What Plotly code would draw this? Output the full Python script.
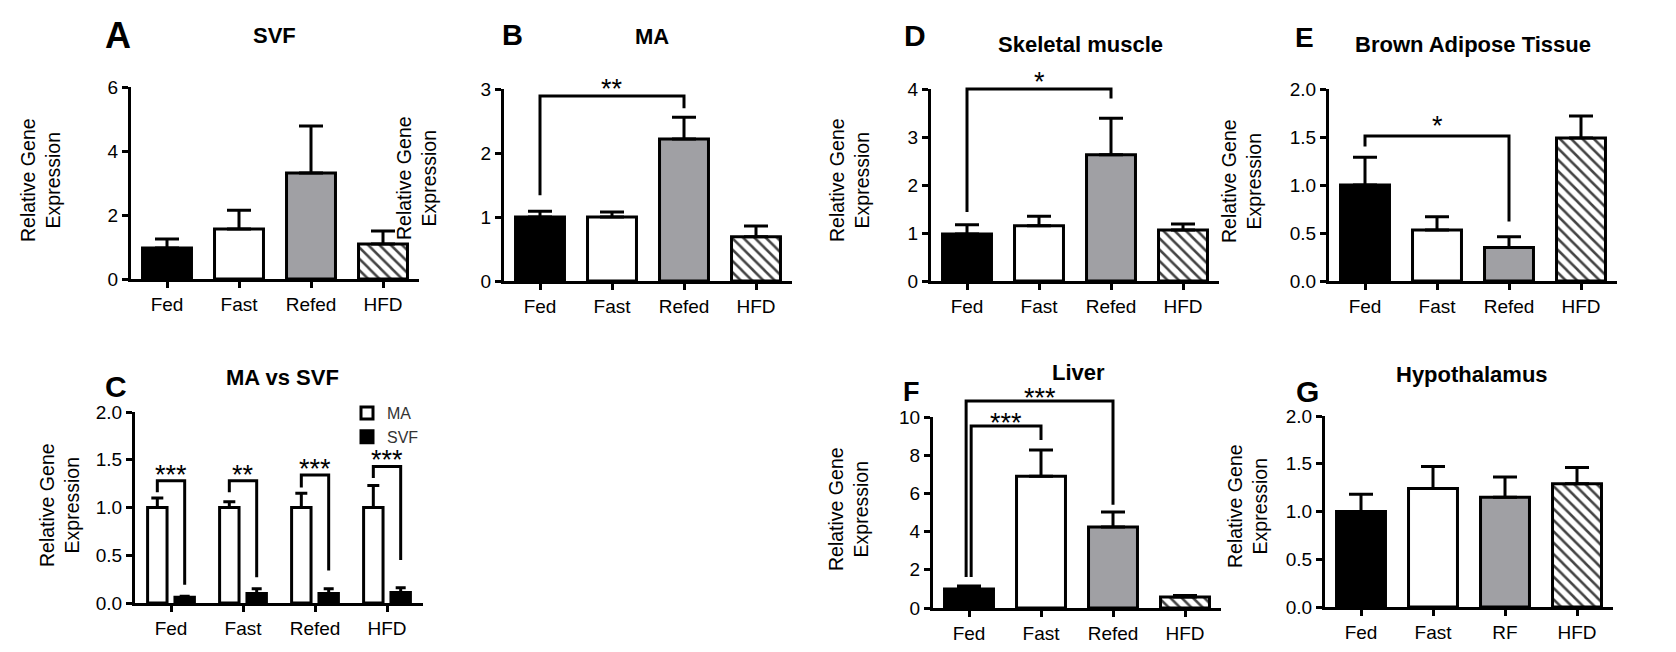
import plotly.graph_objects as go

W, H = 1676, 652
FONT = "Liberation Sans, Arial, sans-serif"

# ---------------- data ----------------
CATS = ["Fed", "Fast", "Refed", "HFD"]
CATS_G = ["Fed", "Fast", "RF", "HFD"]

svf_mean = [0.97, 1.56, 3.31, 1.09]
svf_err = [0.28, 0.59, 1.47, 0.41]

ma_mean = [1.00, 1.00, 2.22, 0.69]
ma_err = [0.09, 0.08, 0.34, 0.17]

muscle_mean = [0.98, 1.15, 2.63, 1.06]
muscle_err = [0.19, 0.20, 0.76, 0.13]

bat_mean = [1.00, 0.53, 0.35, 1.49]
bat_err = [0.29, 0.14, 0.11, 0.23]

c_ma_mean = [1.00, 1.00, 1.00, 1.00]
c_ma_err = [0.10, 0.06, 0.15, 0.23]
c_svf_mean = [0.06, 0.10, 0.10, 0.11]
c_svf_err = [0.01, 0.05, 0.05, 0.05]

liver_mean = [1.00, 6.90, 4.24, 0.58]
liver_err = [0.15, 1.37, 0.79, 0.07]

hyp_mean = [1.00, 1.24, 1.15, 1.29]
hyp_err = [0.18, 0.23, 0.21, 0.17]

# significance brackets: (from category, to category, top, from-leg end, to-leg end, label)
ma_brackets = [(0, 2, 2.89, 1.34, 2.70, "**")]
muscle_brackets = [(0, 2, 4.00, 1.44, 3.80, "*")]
bat_brackets = [(0, 2, 1.51, 1.40, 0.62, "*")]
liver_brackets = [(0, 1, 9.53, 1.62, 8.80, "***"),
                  (0, 2, 10.84, 1.62, 5.40, "***")]
# MA vs SVF brackets: (group, top, MA-leg end, SVF-leg end, label)
c_brackets = [(0, 1.28, 1.16, 0.19, "***"),
              (1, 1.28, 1.16, 0.27, "**"),
              (2, 1.34, 1.21, 0.34, "***"),
              (3, 1.43, 1.31, 0.45, "***")]

# ---------------- style ----------------
FILLS = ["black", "white", "#a0a0a4", "white"]
PATTERNS = ["", "", "", "\\"]
BAR_W = 0.68
PAIR_W = 0.27
MA_OFF = -0.325
SVF_OFF = 0.055
K_EXT = 1.3
STAR_SIZE = 27

panels = [
    dict(letter="A", title="SVF", kind="single", cats=CATS, mean=svf_mean, err=svf_err,
         ymax=6, step=2, fmt="d", box=(131, 419, 87, 279), title_at=(274, 35),
         letter_at=(118, 35), letter_size=36, ylab_at=(41, 180), brackets=[], star_shift=7),
    dict(letter="B", title="MA", kind="single", cats=CATS, mean=ma_mean, err=ma_err,
         ymax=3, step=1, fmt="d", box=(504, 792, 89, 281), title_at=(652, 36),
         letter_at=(512, 35), letter_size=29, ylab_at=(416, 178), brackets=ma_brackets, star_shift=7),
    dict(letter="D", title="Skeletal muscle", kind="single", cats=CATS, mean=muscle_mean, err=muscle_err,
         ymax=4, step=1, fmt="d", box=(931, 1219, 89, 281), title_at=(1080, 44),
         letter_at=(915, 35), letter_size=30, ylab_at=(850, 180), brackets=muscle_brackets, star_shift=7),
    dict(letter="E", title="Brown Adipose Tissue", kind="single", cats=CATS, mean=bat_mean, err=bat_err,
         ymax=2, step=0.5, fmt=".1f", box=(1329, 1617, 89, 281), title_at=(1473, 44),
         letter_at=(1304, 37), letter_size=28, ylab_at=(1241, 181), brackets=bat_brackets, star_shift=10),
    dict(letter="C", title="MA vs SVF", kind="pair", cats=CATS,
         ymax=2, step=0.5, fmt=".1f", box=(135, 423, 412, 603), title_at=(282, 377),
         letter_at=(116, 386), letter_size=30, ylab_at=(59, 505), brackets=[], star_shift=6),
    dict(letter="F", title="Liver", kind="single", cats=CATS, mean=liver_mean, err=liver_err,
         ymax=10, step=2, fmt="d", box=(933, 1221, 417, 608), title_at=(1078, 372),
         letter_at=(911, 392), letter_size=27, ylab_at=(848, 509), brackets=liver_brackets,
         leg_nudge=[0.03, -0.04], star_shift=3),
    dict(letter="G", title="Hypothalamus", kind="single", cats=CATS_G, mean=hyp_mean, err=hyp_err,
         ymax=2, step=0.5, fmt=".1f", box=(1325, 1613, 416, 607), title_at=(1472, 374),
         letter_at=(1307, 391), letter_size=30, ylab_at=(1247, 506), brackets=[], star_shift=7),
]

fig = go.Figure()
layout = {}
annotations = []


def err_bar(arr, capw):
    return dict(type="data", array=arr, arrayminus=[0] * len(arr), symmetric=False,
                color="black", thickness=3, width=capw)


def bracket_trace(xs, ys, xname, yname):
    return go.Scatter(x=xs, y=ys, mode="lines", line=dict(color="black", width=3),
                      xaxis=xname, yaxis=yname, showlegend=False, hoverinfo="skip")


def star(x, y, xname, yname, lab, shift):
    return dict(x=x, y=y, xref=xname, yref=yname, text=lab, showarrow=False,
                xanchor="center", yanchor="middle", yshift=shift,
                font=dict(family=FONT, size=STAR_SIZE, color="black"))


for n, p in enumerate(panels, start=1):
    sfx = "" if n == 1 else str(n)
    xname, yname = "x" + sfx, "y" + sfx
    x0, x1, y0, y1 = p["box"]
    xd = [x0 / W, x1 / W]
    yd = [1 - y1 / H, 1 - y0 / H]
    ymax = p["ymax"]
    nt = int(round(ymax / p["step"]))
    tickvals = [i * p["step"] for i in range(nt + 1)]
    pos = list(range(len(p["cats"])))

    layout["xaxis" + sfx] = dict(
        domain=xd, anchor=yname, range=[-0.5, len(pos) - 0.5], tickvals=pos, ticktext=p["cats"],
        showline=True, linewidth=3, linecolor="black", ticks="outside", ticklen=6, tickwidth=3,
        tickcolor="black", showgrid=False, zeroline=False, fixedrange=True, automargin=False,
        tickfont=dict(family=FONT, size=19, color="black"))
    layout["yaxis" + sfx] = dict(
        domain=yd, anchor=xname, range=[0, ymax], tickvals=tickvals, tickformat=p["fmt"],
        showline=True, linewidth=3, linecolor="black", ticks="outside", ticklen=6, tickwidth=3,
        tickcolor="black", showgrid=False, zeroline=False, fixedrange=True, automargin=False,
        tickfont=dict(family=FONT, size=19, color="black"))

    if p["kind"] == "single":
        fig.add_trace(go.Bar(
            x=pos, y=p["mean"], width=BAR_W,
            marker=dict(color=FILLS, line=dict(color="black", width=3),
                        pattern=dict(shape=PATTERNS, fgcolor="black", bgcolor="white",
                                     fgopacity=1, size=8, solidity=0.32)),
            error_y=err_bar(p["err"], 12),
            xaxis=xname, yaxis=yname, showlegend=False, hoverinfo="skip"))
    else:
        fig.add_trace(go.Bar(
            name="MA", x=pos, y=c_ma_mean, width=PAIR_W, offset=MA_OFF,
            marker=dict(color="white", line=dict(color="black", width=3)),
            error_y=err_bar(c_ma_err, 6), xaxis=xname, yaxis=yname, hoverinfo="skip"))
        fig.add_trace(go.Bar(
            name="SVF", x=pos, y=c_svf_mean, width=PAIR_W, offset=SVF_OFF,
            marker=dict(color="black", line=dict(color="black", width=3)),
            error_y=err_bar(c_svf_err, 5), xaxis=xname, yaxis=yname, hoverinfo="skip"))

    # extended, invisible y axis with the same scale, so brackets above the axis are not clipped
    ext_n = 10 + n
    ext_name = "y" + str(ext_n)
    need_ext = bool(p["brackets"]) or p["kind"] == "pair"
    if need_ext:
        layout["yaxis" + str(ext_n)] = dict(
            domain=[yd[0], yd[0] + (yd[1] - yd[0]) * K_EXT], range=[0, ymax * K_EXT],
            anchor=xname, visible=False, fixedrange=True, automargin=False)

    for bi, b in enumerate(p["brackets"]):
        a, c, top, ea, ec, lab = b
        nud = p.get("leg_nudge", [0] * len(p["brackets"]))[bi]
        xa = a + nud
        fig.add_trace(bracket_trace([xa, xa, c, c], [ea, top, top, ec], xname, ext_name))
        annotations.append(star((xa + c) / 2, top, xname, ext_name, lab, p["star_shift"]))

    if p["kind"] == "pair":
        ma_c = MA_OFF + PAIR_W / 2
        svf_c = SVF_OFF + PAIR_W / 2
        for g, top, ema, esvf, lab in c_brackets:
            xa, xb = g + ma_c, g + svf_c
            fig.add_trace(bracket_trace([xa, xa, xb, xb], [ema, top, top, esvf], xname, ext_name))
            annotations.append(star((xa + xb) / 2, top, xname, ext_name, lab, p["star_shift"]))

    tx, ty = p["title_at"]
    annotations.append(dict(x=tx / W, y=1 - ty / H, xref="paper", yref="paper",
                            text="<b>%s</b>" % p["title"], showarrow=False,
                            xanchor="center", yanchor="middle",
                            font=dict(family=FONT, size=22, color="black")))
    lx, ly = p["letter_at"]
    annotations.append(dict(x=lx / W, y=1 - ly / H, xref="paper", yref="paper",
                            text="<b>%s</b>" % p["letter"], showarrow=False,
                            xanchor="center", yanchor="middle",
                            font=dict(family=FONT, size=p["letter_size"], color="black")))
    yx, yy = p["ylab_at"]
    annotations.append(dict(x=yx / W, y=1 - yy / H, xref="paper", yref="paper",
                            text="Relative Gene<br>Expression", textangle=-90, showarrow=False,
                            xanchor="center", yanchor="middle",
                            font=dict(family=FONT, size=19.5, color="black")))

fig.update_layout(
    width=W, height=H, margin=dict(l=0, r=0, t=0, b=0, pad=0, autoexpand=False),
    paper_bgcolor="white", plot_bgcolor="rgba(0,0,0,0)",
    barmode="overlay", showlegend=True,
    legend=dict(x=347 / W, y=1 - 396 / H, xanchor="left", yanchor="top",
                font=dict(family=FONT, size=16, color="#333"), bgcolor="rgba(0,0,0,0)",
                tracegroupgap=0, itemwidth=30),
    annotations=annotations,
    font=dict(family=FONT, color="black"),
    **layout,
)

fig.write_html("out.html", config={"displayModeBar": False},
               post_script="document.body.style.margin='0px';")
